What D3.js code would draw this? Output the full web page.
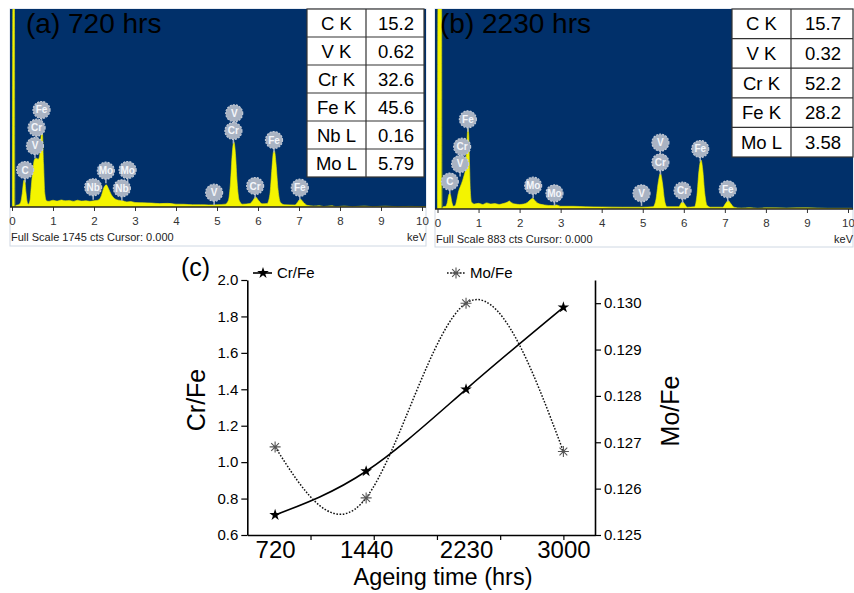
<!DOCTYPE html>
<html>
<head>
<meta charset="utf-8">
<script src="https://cdn.jsdelivr.net/npm/d3@7"></script>
<style>
  body { margin: 0; background: #fff; }
  svg text { font-family: Arial, "Liberation Sans", sans-serif; }
</style>
</head>
<body>
<div id="chart"></div>
<script>
// ---------- data: EDS spectra (keV, counts) ----------
const specA = [
  [0.01, 0], [0.02, 1745], [0.06, 1745], [0.07, 0],
  [0.10, 15], [0.16, 20], [0.21, 40], [0.25, 120], [0.29, 235], [0.31, 240], [0.34, 130], [0.37, 45], [0.40, 25],
  [0.44, 60], [0.47, 180], [0.51, 330], [0.55, 420], [0.60, 430], [0.64, 420], [0.68, 470], [0.72, 650], [0.74, 655], [0.77, 380], [0.80, 120], [0.84, 55],
  [0.9, 50], [1.0, 60], [1.1, 52], [1.2, 62], [1.3, 55], [1.4, 58], [1.5, 50], [1.6, 60], [1.7, 52], [1.8, 56], [1.9, 50], [2.0, 55], [2.1, 60],
  [2.18, 100], [2.24, 170], [2.30, 195], [2.35, 165], [2.42, 110], [2.5, 75], [2.6, 60], [2.7, 55], [2.8, 45], [2.9, 48], [3.0, 40], [3.2, 38], [3.4, 35], [3.6, 30], [3.8, 32], [4.0, 25], [4.2, 24], [4.4, 20], [4.6, 20], [4.8, 18], [5.0, 20], [5.2, 25],
  [5.28, 60], [5.33, 220], [5.37, 460], [5.41, 575], [5.45, 470], [5.49, 220], [5.54, 60], [5.62, 25],
  [5.80, 30], [5.88, 60], [5.94, 88], [6.01, 60], [6.10, 28],
  [6.22, 30], [6.29, 110], [6.34, 340], [6.38, 490], [6.40, 495], [6.44, 380], [6.49, 150], [6.55, 40], [6.65, 20],
  [6.90, 18], [6.97, 45], [7.03, 70], [7.10, 45], [7.2, 15], [7.35, 8], [7.5, 12], [7.6, 4], [7.8, 10], [7.9, 3], [8.1, 8], [8.3, 3], [8.6, 8], [8.8, 3], [9.1, 7], [9.4, 3], [9.7, 5], [10.1, 3]
];
const specB = [
  [0.00, 0], [0.01, 883], [0.10, 883], [0.11, 0],
  [0.14, 10], [0.20, 12], [0.24, 30], [0.27, 60], [0.30, 69], [0.32, 60], [0.35, 30], [0.39, 12], [0.43, 15],
  [0.47, 40], [0.51, 75], [0.56, 100], [0.61, 125], [0.65, 150], [0.68, 175], [0.71, 270], [0.74, 357], [0.76, 330], [0.78, 200], [0.80, 80], [0.83, 30],
  [0.9, 22], [1.0, 25], [1.1, 20], [1.2, 27], [1.3, 22], [1.4, 24], [1.5, 20], [1.6, 24], [1.7, 30], [1.75, 35], [1.8, 28], [1.9, 22], [2.0, 20], [2.1, 22],
  [2.2, 30], [2.27, 42], [2.32, 47], [2.37, 38], [2.45, 25], [2.6, 18], [2.8, 15], [2.9, 18], [3.0, 12], [3.3, 12], [3.6, 10], [4.0, 9], [4.5, 8], [5.0, 8], [5.25, 10],
  [5.32, 40], [5.38, 120], [5.43, 158], [5.48, 115], [5.53, 40], [5.59, 10],
  [5.88, 10], [5.93, 25], [5.97, 32], [6.02, 22], [6.08, 8],
  [6.26, 10], [6.32, 60], [6.37, 170], [6.42, 216], [6.46, 175], [6.51, 70], [6.57, 15], [6.65, 8],
  [6.95, 8], [7.02, 25], [7.08, 37], [7.14, 25], [7.22, 8], [7.4, 4], [7.6, 6], [7.8, 3], [8.0, 5], [8.5, 4], [9.0, 5], [9.5, 3], [10.1, 3]
];

// peak identification markers
const markA_el = ["C", "V", "Cr", "Fe", "Nb", "Mo", "Mo", "Nb", "V", "V", "Cr", "Cr", "Fe", "Fe"];
const markA_kev = [0.32, 0.56, 0.60, 0.72, 1.98, 2.29, 2.82, 2.68, 4.93, 5.42, 5.40, 5.93, 6.39, 7.02];
const markA_cts = [326, 538, 699, 855, 174, 320, 326, 165, 126, 826, 670, 185, 590, 170];
const markB_el = ["C", "V", "Cr", "Fe", "Mo", "Mo", "V", "V", "Cr", "Cr", "Fe", "Fe"];
const markB_kev = [0.30, 0.55, 0.60, 0.74, 2.33, 2.85, 4.97, 5.43, 5.43, 5.97, 6.40, 7.07];
const markB_cts = [121, 199, 275, 396, 103, 69, 69, 293, 206, 81, 265, 87];

// quantification tables (wt%)
const tabA_el = ["C K", "V K", "Cr K", "Fe K", "Nb L", "Mo L"];
const tabA_wt = ["15.2", "0.62", "32.6", "45.6", "0.16", "5.79"];
const tabB_el = ["C K", "V K", "Cr K", "Fe K", "Mo L"];
const tabB_wt = ["15.7", "0.32", "52.2", "28.2", "3.58"];

const kevTicks = [0, 1, 2, 3, 4, 5, 6, 7, 8, 9, 10];

// ---------- data: ratio vs ageing time ----------
const hours = [720, 1440, 2230, 3000];
const crFe = [0.71, 0.95, 1.40, 1.85];
const moFe = [0.1269, 0.1258, 0.1300, 0.1268];
const crTicks = [0.6, 0.8, 1.0, 1.2, 1.4, 1.6, 1.8, 2.0];
const crMinor = [0.7, 0.9, 1.1, 1.3, 1.5, 1.7, 1.9];
const moTicks = [0.125, 0.126, 0.127, 0.128, 0.129, 0.130];
const moMinor = [0.1255, 0.1265, 0.1275, 0.1285, 0.1295, 0.1305];
const timeMajor = [1000, 1500, 2000, 2500, 3000];
const timeMinor = [750, 1250, 1750, 2250, 2750, 3250];

const svg = d3.select("#chart").append("svg")
  .attr("width", 854).attr("height", 593)
  .style("background", "#fff");

// ---------- spectrum panel ----------
function drawSpectrum(o) {
  const g = svg.append("g");
  const x = d3.scaleLinear().domain([0, 10]).range(o.xr);
  const y = d3.scaleLinear().domain([0, o.full]).range([o.base, o.top]);

  g.append("rect")
    .attr("x", o.left).attr("y", o.top)
    .attr("width", o.right - o.left).attr("height", o.bottom - o.top)
    .attr("fill", "#fff").attr("stroke", "#cfd8e3");
  g.append("rect")
    .attr("x", o.left).attr("y", o.top)
    .attr("width", o.right - o.left).attr("height", o.base - o.top)
    .attr("fill", "#01306a");

  g.append("clipPath").attr("id", o.id)
    .append("rect")
    .attr("x", o.left).attr("y", o.top)
    .attr("width", o.right - o.left).attr("height", o.base - o.top);

  const area = d3.area()
    .x(d => x(d[0])).y0(o.base).y1(d => y(d[1]))
    .curve(d3.curveMonotoneX);
  g.append("path")
    .datum(o.spec)
    .attr("clip-path", `url(#${o.id})`)
    .attr("d", area)
    .attr("fill", "#f4f400")
    .attr("stroke", "#e8e800").attr("stroke-width", 0.6);

  // element markers
  const r = 8.5;
  const mk = g.selectAll(".mk").data(o.marks).enter().append("g")
    .attr("transform", d => `translate(${x(d.kev)},${y(d.cts)})`);
  mk.append("line")
    .attr("x1", 0).attr("x2", 0).attr("y1", r - 1).attr("y2", r + 4)
    .attr("stroke", "#a9b3c3").attr("stroke-width", 1.5);
  mk.append("circle")
    .attr("r", r)
    .attr("fill", "#a9b3c3")
    .attr("stroke", "#c3cad6").attr("stroke-width", 1.2)
    .attr("stroke-dasharray", "2,1.2");
  mk.append("text")
    .attr("text-anchor", "middle").attr("y", 3.5)
    .attr("font-size", 10).attr("font-weight", "bold").attr("fill", "#f4f6fa")
    .text(d => d.el);

  // keV axis
  const ax = g.append("g").attr("transform", `translate(0,${o.base})`);
  ax.call(d3.axisBottom(x).tickValues(d3.range(0, 10.01, 0.2).filter(v => Math.abs(v - Math.round(v)) > 0.01))
    .tickSize(2.5).tickFormat(""));
  ax.call(d3.axisBottom(x).tickValues(kevTicks).tickSize(4).tickPadding(6).tickFormat(d3.format("d")));
  ax.select(".domain").remove();
  ax.selectAll("text").attr("font-size", 11.5).attr("fill", "#333").attr("font-family", "Arial, sans-serif");
  ax.selectAll(".tick line").attr("stroke", "#333");
  ax.append("line")
    .attr("x1", o.left).attr("x2", o.right)
    .attr("stroke", "#222").attr("stroke-width", 1.5);

  g.append("text").attr("x", o.left + 1).attr("y", o.base + 34)
    .attr("font-size", 11).attr("fill", "#222").text(o.footer);
  g.append("text").attr("x", o.right).attr("y", o.base + 34)
    .attr("text-anchor", "end")
    .attr("font-size", 11).attr("fill", "#222").text("keV");

  // title
  g.append("text").attr("x", o.titleX).attr("y", 33)
    .attr("font-size", 28).attr("fill", "#000").text(o.title);

  // table
  const t = g.append("g");
  const n = o.tabEl.length;
  const rh = (o.tab.y1 - o.tab.y0) / n;
  t.append("rect")
    .attr("x", o.tab.x0).attr("y", o.tab.y0)
    .attr("width", o.tab.x1 - o.tab.x0).attr("height", o.tab.y1 - o.tab.y0)
    .attr("fill", "#fff").attr("stroke", "#333").attr("stroke-width", 1.2);
  t.append("line")
    .attr("x1", o.tab.xm).attr("x2", o.tab.xm)
    .attr("y1", o.tab.y0).attr("y2", o.tab.y1)
    .attr("stroke", "#333").attr("stroke-width", 1.2);
  t.selectAll(".hl").data(d3.range(1, n)).enter().append("line")
    .attr("x1", o.tab.x0).attr("x2", o.tab.x1)
    .attr("y1", i => o.tab.y0 + i * rh).attr("y2", i => o.tab.y0 + i * rh)
    .attr("stroke", "#333").attr("stroke-width", 1.2);
  t.selectAll(".ce").data(o.tabEl).enter().append("text")
    .attr("x", (o.tab.x0 + o.tab.xm) / 2)
    .attr("y", (d, i) => o.tab.y0 + (i + 0.5) * rh + 6.5)
    .attr("text-anchor", "middle").attr("font-size", 18.5)
    .text(d => d);
  t.selectAll(".cv").data(o.tabWt).enter().append("text")
    .attr("x", (o.tab.xm + o.tab.x1) / 2 + 1)
    .attr("y", (d, i) => o.tab.y0 + (i + 0.5) * rh + 6.5)
    .attr("text-anchor", "middle").attr("font-size", 18.5)
    .text(d => d);
}

drawSpectrum({
  id: "clipA", left: 10, right: 426, top: 9, base: 207, bottom: 246,
  xr: [12, 422], full: 1745, spec: specA,
  marks: markA_el.map((el, i) => ({ el, kev: markA_kev[i], cts: markA_cts[i] })),
  title: "(a) 720 hrs", titleX: 26,
  footer: "Full Scale 1745 cts Cursor: 0.000",
  tabEl: tabA_el, tabWt: tabA_wt,
  tab: { x0: 307, xm: 366, x1: 424, y0: 9, y1: 177 }
});
drawSpectrum({
  id: "clipB", left: 435, right: 853, top: 9, base: 209, bottom: 247,
  xr: [437.5, 848], full: 883, spec: specB,
  marks: markB_el.map((el, i) => ({ el, kev: markB_kev[i], cts: markB_cts[i] })),
  title: "(b) 2230 hrs", titleX: 440,
  footer: "Full Scale 883 cts Cursor: 0.000",
  tabEl: tabB_el, tabWt: tabB_wt,
  tab: { x0: 732, xm: 791, x1: 853, y0: 9, y1: 157 }
});

// ---------- panel (c) ----------
const cx = d3.scaleLinear().domain([500, 3250]).range([247.3, 595]);
const cyL = d3.scaleLinear().domain([0.6, 2.0]).range([535, 280]);
const cyR = d3.scaleLinear().domain([0.125, 0.1305]).range([535, 280]);
const gc = svg.append("g");

function styleAxis(sel, fs) {
  sel.selectAll("text").attr("font-size", fs).attr("fill", "#000").attr("font-family", "Arial, sans-serif");
  sel.selectAll(".tick line").attr("stroke", "#000").attr("stroke-width", 1.2);
  sel.select(".domain").attr("stroke", "#000").attr("stroke-width", 1.6);
}

// left
const axL = gc.append("g").attr("transform", `translate(${cx.range()[0]},0)`);
axL.call(d3.axisLeft(cyL).tickValues(crMinor).tickSize(3).tickSizeOuter(0).tickFormat(""));
axL.call(d3.axisLeft(cyL).tickValues(crTicks).tickSize(6).tickSizeOuter(0).tickPadding(3).tickFormat(d3.format(".1f")));
styleAxis(axL, 15);

// right
const axR = gc.append("g").attr("transform", `translate(${cx.range()[1]},0)`);
axR.call(d3.axisRight(cyR).tickValues(moMinor).tickSize(3).tickSizeOuter(0).tickFormat(""));
axR.call(d3.axisRight(cyR).tickValues(moTicks).tickSize(6).tickSizeOuter(0).tickPadding(3).tickFormat(d3.format(".3f")));
styleAxis(axR, 15);

// bottom
const axB = gc.append("g").attr("transform", `translate(0,535)`);
axB.call(d3.axisBottom(cx).tickValues(timeMinor).tickSize(3).tickSizeOuter(0).tickFormat(""));
axB.call(d3.axisBottom(cx).tickValues(timeMajor).tickSize(5).tickSizeOuter(0).tickFormat(""));
styleAxis(axB, 15);
const axLab = gc.append("g").attr("transform", `translate(0,535)`);
axLab.call(d3.axisBottom(cx).tickValues(hours).tickSize(0).tickPadding(6).tickFormat(d3.format("d")));
axLab.select(".domain").remove();
axLab.selectAll("text").attr("font-size", 24).attr("fill", "#000").attr("font-family", "Arial, sans-serif");

// titles
gc.append("text").attr("x", 443).attr("y", 585)
  .attr("text-anchor", "middle").attr("font-size", 23.5).text("Ageing time (hrs)");
gc.append("text").attr("transform", "translate(205,400) rotate(-90)")
  .attr("text-anchor", "middle").attr("font-size", 25).text("Cr/Fe");
gc.append("text").attr("transform", "translate(679,411) rotate(-90)")
  .attr("text-anchor", "middle").attr("font-size", 25).text("Mo/Fe");
gc.append("text").attr("x", 181).attr("y", 276)
  .attr("font-size", 25).text("(c)");

// series
const crPts = hours.map((h, i) => [h, crFe[i]]);
const moPts = hours.map((h, i) => [h, moFe[i]]);
gc.append("path").datum(crPts)
  .attr("d", d3.line().x(d => cx(d[0])).y(d => cyL(d[1])).curve(d3.curveNatural))
  .attr("fill", "none").attr("stroke", "#000").attr("stroke-width", 1.6);
gc.append("path").datum(moPts)
  .attr("d", d3.line().x(d => cx(d[0])).y(d => cyR(d[1])).curve(d3.curveNatural))
  .attr("fill", "none").attr("stroke", "#111").attr("stroke-width", 1.5)
  .attr("stroke-dasharray", "1.6,1.6");

const star = d3.symbol().type(d3.symbolStar).size(42);
function asterisk(r) {
  const a = r * 0.707;
  return `M0,${-r}L0,${r}M${-r},0L${r},0M${-a},${-a}L${a},${a}M${-a},${a}L${a},${-a}`;
}
gc.selectAll(".st").data(crPts).enter().append("path")
  .attr("transform", d => `translate(${cx(d[0])},${cyL(d[1])})`)
  .attr("d", star).attr("fill", "#000");
gc.selectAll(".as").data(moPts).enter().append("path")
  .attr("transform", d => `translate(${cx(d[0])},${cyR(d[1])})`)
  .attr("d", asterisk(5.5)).attr("fill", "none").attr("stroke", "#555").attr("stroke-width", 1.1);

// legend
const lg1 = gc.append("g").attr("transform", "translate(253,273)");
lg1.append("line").attr("x1", 0).attr("x2", 19).attr("stroke", "#000").attr("stroke-width", 1.6);
lg1.append("path").attr("transform", "translate(10,0)").attr("d", star).attr("fill", "#000");
lg1.append("text").attr("x", 24).attr("y", 5).attr("font-size", 15).text("Cr/Fe");
const lg2 = gc.append("g").attr("transform", "translate(447,273)");
lg2.append("line").attr("x1", 0).attr("x2", 18).attr("stroke", "#111").attr("stroke-width", 1.5).attr("stroke-dasharray", "1.6,1.6");
lg2.append("path").attr("transform", "translate(9,0)").attr("d", asterisk(5.5))
  .attr("fill", "none").attr("stroke", "#555").attr("stroke-width", 1.1);
lg2.append("text").attr("x", 23).attr("y", 5).attr("font-size", 15).text("Mo/Fe");
</script>
</body>
</html>
